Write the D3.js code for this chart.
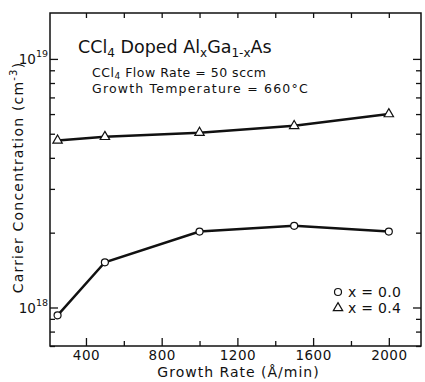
<!DOCTYPE html>
<html>
<head>
<meta charset="utf-8">
<script src="https://cdn.jsdelivr.net/npm/d3@7"></script>
<style>
  body { margin: 0; background: #fff; }
  #chart-area { width: 425px; height: 382px; }
  text { font-family: "DejaVu Sans", sans-serif; fill: #111; }
</style>
</head>
<body>
<div id="chart-area"></div>
<script>
// Growth rate (Angstrom/min) and carrier concentration (cm^-3)
const growthRates = [250, 500, 1000, 1500, 2000];
const concX00 = [9.3e17, 1.52e18, 2.02e18, 2.13e18, 2.02e18];
const concX04 = [4.7e18, 4.86e18, 5.05e18, 5.38e18, 6.0e18];

// Axis ticks
const xMajorTicks = [400, 800, 1200, 1600, 2000];
const xMinorTicks = [600, 1000, 1400, 1800];
const xTopTicks = [400, 600, 800, 1000, 1200, 1400, 1600, 1800, 2000];
const yMajorTicks = [1e18, 1e19];
const yMinorTicks = [7e17, 8e17, 9e17, 2e18, 3e18, 4e18, 5e18, 6e18, 7e18, 8e18, 9e18];

const legendItems = [
  { label: "x = 0.0", symbol: "circle" },
  { label: "x = 0.4", symbol: "triangle" },
];

class CarrierVis {
  constructor(_parentElement) {
    this.parentElement = _parentElement;
    this.initVis();
  }

  initVis() {
    let vis = this;

    vis.margin = { top: 13, right: 4, bottom: 36, left: 50 };
    vis.width = 425 - vis.margin.left - vis.margin.right;
    vis.height = 382 - vis.margin.top - vis.margin.bottom;

    vis.svg = d3
      .select("#" + vis.parentElement)
      .append("svg")
      .attr("width", 425)
      .attr("height", 382)
      .append("g")
      .attr("transform", "translate(" + vis.margin.left + "," + vis.margin.top + ")");

    // Scales
    vis.x = d3.scaleLinear().domain([210, 2170]).range([0, vis.width]);
    vis.y = d3.scaleLog().domain([7.0e17, 1.53e19]).range([vis.height, 0]);

    // Frame
    vis.svg
      .append("rect")
      .attr("width", vis.width)
      .attr("height", vis.height)
      .style("fill", "none")
      .style("stroke", "#111")
      .style("stroke-width", 1.5);

    // Bottom axis - major ticks with labels, minor ticks without
    vis.svg
      .append("g")
      .attr("class", "axis")
      .attr("transform", "translate(0," + vis.height + ")")
      .call(
        d3.axisBottom(vis.x).tickValues(xMajorTicks).tickSizeInner(-8).tickSizeOuter(0)
          .tickPadding(4).tickFormat(d3.format("d"))
      );

    vis.svg
      .append("g")
      .attr("class", "axis")
      .attr("transform", "translate(0," + vis.height + ")")
      .call(d3.axisBottom(vis.x).tickValues(xMinorTicks).tickSizeInner(-5).tickSizeOuter(0).tickFormat(""));

    // Top axis
    vis.svg
      .append("g")
      .attr("class", "axis")
      .call(d3.axisTop(vis.x).tickValues(xTopTicks).tickSizeInner(-5).tickSizeOuter(0).tickFormat(""));

    // Left axis, labels drawn as powers of ten
    vis.svg
      .append("g")
      .attr("class", "axis y-left")
      .call(d3.axisLeft(vis.y).tickValues(yMajorTicks).tickSizeInner(-8).tickSizeOuter(0).tickFormat("").tickPadding(2));

    vis.svg
      .append("g")
      .attr("class", "axis")
      .call(d3.axisLeft(vis.y).tickValues(yMinorTicks).tickSizeInner(-5).tickSizeOuter(0).tickFormat(""));

    // Right axis
    vis.svg
      .append("g")
      .attr("class", "axis")
      .attr("transform", "translate(" + vis.width + ",0)")
      .call(d3.axisRight(vis.y).tickValues(yMajorTicks).tickSizeInner(-8).tickSizeOuter(0).tickFormat(""));

    vis.svg
      .append("g")
      .attr("class", "axis")
      .attr("transform", "translate(" + vis.width + ",0)")
      .call(d3.axisRight(vis.y).tickValues(yMinorTicks).tickSizeInner(-5).tickSizeOuter(0).tickFormat(""));

    vis.svg.selectAll(".axis .domain").remove();
    vis.svg.selectAll(".axis line").style("stroke", "#111").style("stroke-width", 1.3);
    vis.svg
      .selectAll(".axis text")
      .style("font-family", "DejaVu Sans")
      .style("font-size", "13.5px")
      .style("letter-spacing", "0.5px")
      .style("fill", "#111");

    // 10^18, 10^19 labels
    vis.svg
      .selectAll(".y-left .tick text")
      .attr("x", -2)
      .attr("dy", "0.36em")
      .style("text-anchor", "end")
      .style("letter-spacing", "0px")
      .each(function (d) {
        let t = d3.select(this);
        t.append("tspan").text("10");
        t.append("tspan")
          .attr("dy", -7)
          .style("font-size", "9.5px")
          .text(Math.round(Math.log10(d)));
      });

    // Axis titles
    vis.svg
      .append("text")
      .attr("x", vis.width / 2 + 3)
      .attr("y", vis.height + 31)
      .style("text-anchor", "middle")
      .style("font-size", "14px")
      .style("letter-spacing", "1px")
      .text("Growth Rate  (Å/min)");

    let yTitle = vis.svg
      .append("text")
      .attr("transform", "translate(-27," + (vis.height / 2 - 2) + ") rotate(-90)")
      .style("text-anchor", "middle")
      .style("font-size", "14px")
      .style("letter-spacing", "1.2px");
    yTitle.append("tspan").text("Carrier Concentration  (cm");
    yTitle.append("tspan").attr("dy", -6).style("font-size", "10px").text("-3");
    yTitle.append("tspan").attr("dy", 6).text(")");

    // Title block
    let title = vis.svg
      .append("text")
      .attr("x", 28)
      .attr("y", 40)
      .style("font-size", "17.5px");
    title.append("tspan").text("CCl");
    title.append("tspan").attr("dy", 4).style("font-size", "12px").text("4");
    title.append("tspan").attr("dy", -4).text(" Doped Al");
    title.append("tspan").attr("dy", 4).style("font-size", "12px").text("x");
    title.append("tspan").attr("dy", -4).text("Ga");
    title.append("tspan").attr("dy", 4).style("font-size", "12px").text("1-x");
    title.append("tspan").attr("dy", -4).text("As");

    let flow = vis.svg
      .append("text")
      .attr("x", 42)
      .attr("y", 64)
      .style("font-size", "12.5px")
      .style("letter-spacing", "0.5px");
    flow.append("tspan").text("CCl");
    flow.append("tspan").attr("dy", 1.5).style("font-size", "9px").text("4");
    flow.append("tspan").attr("dy", -1.5).text(" Flow Rate = 50 sccm");

    vis.svg
      .append("text")
      .attr("x", 42)
      .attr("y", 80)
      .style("font-size", "12.5px")
      .style("letter-spacing", "1.2px")
      .text("Growth Temperature = 660°C");

    vis.wrangleData();
  }

  wrangleData() {
    let vis = this;

    vis.series = [
      { symbol: "circle", values: growthRates.map((g, i) => ({ rate: g, conc: concX00[i] })) },
      { symbol: "triangle", values: growthRates.map((g, i) => ({ rate: g, conc: concX04[i] })) },
    ];

    vis.updateVis();
  }

  updateVis() {
    let vis = this;

    let line = d3
      .line()
      .x((d) => vis.x(d.rate))
      .y((d) => vis.y(d.conc));

    vis.series.forEach((s) => {
      vis.svg
        .append("path")
        .datum(s.values)
        .attr("class", "line")
        .style("fill", "none")
        .style("stroke", "#111")
        .style("stroke-width", 2.5)
        .attr("d", line);

      vis.drawMarkers(vis.svg, s.values, s.symbol);
    });

    // Legend
    legendItems.forEach((item, i) => {
      let ly = 279 + i * 16;
      vis.drawMarkers(vis.svg, [{ px: 288, py: ly }], item.symbol, true);
      vis.svg
        .append("text")
        .attr("x", 298)
        .attr("y", ly + 5)
        .style("font-size", "14px")
        .style("letter-spacing", "0.3px")
        .text(item.label);
    });
  }

  drawMarkers(parent, data, symbol, fixed) {
    let vis = this;
    let px = (d) => (fixed ? d.px : vis.x(d.rate));
    let py = (d) => (fixed ? d.py : vis.y(d.conc));

    if (symbol === "circle") {
      parent
        .selectAll(null)
        .data(data)
        .enter()
        .append("circle")
        .attr("cx", px)
        .attr("cy", py)
        .attr("r", 3.5)
        .style("fill", "#fff")
        .style("stroke", "#111")
        .style("stroke-width", 1.2);
    } else {
      parent
        .selectAll(null)
        .data(data)
        .enter()
        .append("path")
        .attr("d", d3.symbol(d3.symbolTriangle, 38))
        .attr("transform", (d) => "translate(" + px(d) + "," + py(d) + ")")
        .style("fill", "#fff")
        .style("stroke", "#111")
        .style("stroke-width", 1.2);
    }
  }
}

new CarrierVis("chart-area");
</script>
</body>
</html>
